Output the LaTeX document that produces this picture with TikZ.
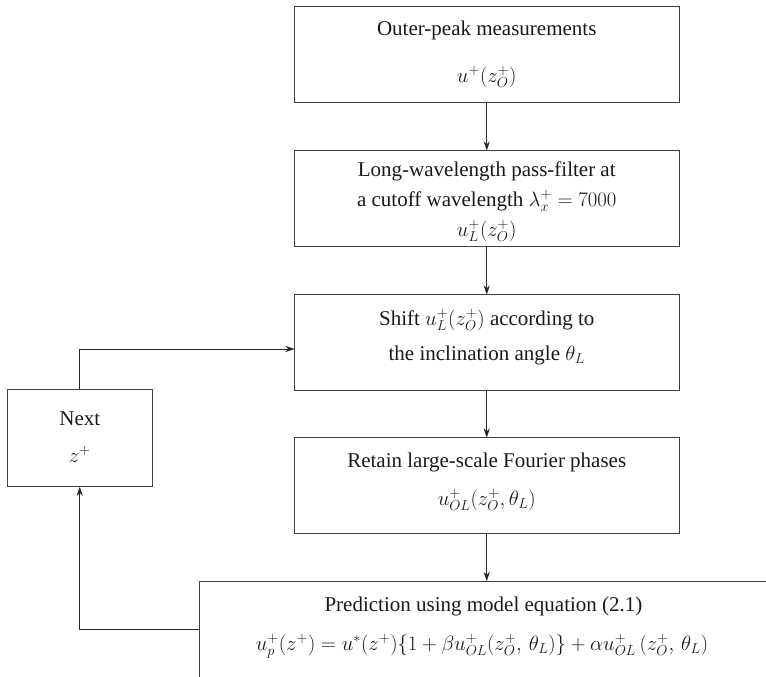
\documentclass[tikz,border=0pt]{standalone}
\usepackage{fontspec}
\setmainfont{Liberation Serif}
\usetikzlibrary{arrows.meta}
\tikzset{
  box/.style={draw=black!75, line width=0.9pt, minimum width=384.5pt, minimum height=96pt, inner sep=0pt, outer sep=0pt},
  txt/.style={inner sep=0pt, anchor=base, font=\fontsize{21}{25}\selectfont, text=black!90},
  arr/.style={draw=black!85, line width=0.8pt, -{Stealth[length=9pt,width=6pt]}}
}
\begin{document}
\begin{tikzpicture}[x=1pt,y=-1pt]
\useasboundingbox (0,0) rectangle (766,677);
\clip (0,0) rectangle (766,677);
\node[box] (b1) at (486.75,54.5) {};
\node[box] (b2) at (486.75,198.5) {};
\node[box] (b3) at (486.75,342.5) {};
\node[box] (b4) at (486.75,485.5) {};
\node[box, minimum width=600pt, minimum height=130pt, anchor=north west] (b5) at (199,581) {};
\node[box, minimum width=145pt, minimum height=97.5pt] (nx) at (79.75,438) {};
% texts
\node[txt] (t11) at (486.75,36) {Outer-peak measurements};
\node[txt] (t12) at (486.75,82) {$u^{+}(z^{+}_{O})$};
\node[txt] (t21) at (486.75,176) {Long-wavelength pass-filter at};
\node[txt] (t22) at (486.75,206) {a cutoff wavelength $\lambda^{+}_{x}=7000$};
\node[txt] (t23) at (486.75,236.5) {$u^{+}_{L}(z^{+}_{O})$};
\node[txt] (t31) at (486.75,325) {Shift $u^{+}_{L}(z^{+}_{O})$ according to};
\node[txt] (t32) at (486.75,360) {the inclination angle $\theta_{L}$};
\node[txt] (t41) at (486.75,467) {Retain large-scale Fourier phases};
\node[txt] (t42) at (486.75,505) {$u^{+}_{OL}(z^{+}_{O},\theta_{L})$};
\node[txt] (t51) at (483.5,611) {Prediction using model equation (2.1)};
\node[txt] (t52) at (482,650) {$u^{+}_{p}(z^{+})=u^{*}(z^{+})\{1+\beta u^{+}_{OL}(z^{+}_{O},\,\theta_{L})\}+\alpha u^{+}_{OL}\,(z^{+}_{O},\,\theta_{L})$};
\node[txt] (tn1) at (79.75,425) {Next};
\node[txt] (tn2) at (79.75,462) {$z^{+}$};
% connectors
\coordinate (fb) at (199,629);
\coordinate (in3) at (294.5,349);
\draw[arr] (b1.south) -- (b2.north);
\draw[arr] (b2.south) -- (b3.north);
\draw[arr] (b3.south) -- (b4.north);
\draw[arr] (b4.south) -- (b5.north -| b4.south);
\draw[arr] (fb) -| (nx.south);
\draw[arr] (nx.north) |- (in3);
\end{tikzpicture}
\end{document}
